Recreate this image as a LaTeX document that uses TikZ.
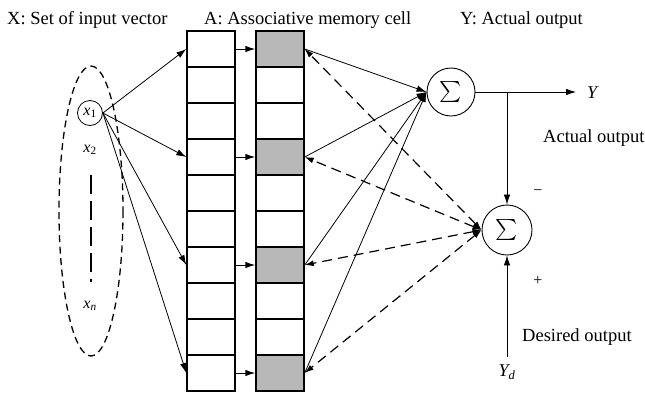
\documentclass[tikz,border=0pt]{standalone}
\usepackage{graphicx}
\usepackage{fontspec}
\setmainfont{Liberation Serif}
\usetikzlibrary{arrows.meta}
\begin{document}
\begin{tikzpicture}[x=1pt,y=-1pt,
  cellbox/.style={draw,line width=1.4pt,minimum width=48pt,minimum height=36pt,inner sep=0pt},
  shaded/.style={cellbox,fill=black!28},
  sumnode/.style={draw,circle,line width=0.9pt,minimum size=48pt,inner sep=0pt},
  lbl/.style={font=\fontsize{18.5}{20}\selectfont,inner sep=0pt},
  var/.style={font=\fontsize{16}{18}\selectfont\itshape,inner sep=0pt},
  arr/.style={line width=0.8pt,-{Latex[length=10pt,width=6.5pt]}},
  darr/.style={line width=1.2pt,dash pattern=on 10pt off 6pt,{Latex[length=9pt,width=6pt]}-{Latex[length=9pt,width=6pt]}}
]
\useasboundingbox (0,0) rectangle (645,394);
% titles
\node[lbl,anchor=base west] (tX) at (7,24) {X: Set of input vector};
\node[lbl,anchor=base west] (tA) at (204,24) {A: Associative memory cell};
\node[lbl,anchor=base west] (tY) at (460,24) {Y: Actual output};
% input ellipse
\draw[line width=1.3pt,dash pattern=on 7pt off 4.5pt] (91,211) ellipse [x radius=32,y radius=145];
\node[draw,circle,line width=0.8pt,minimum size=25pt,inner sep=0pt,var] (x1) at (90,113) {x\textsubscript{\upshape 1}};
\node[var] (x2) at (90,150) {x\textsubscript{\upshape 2}};
\node[var] (xn) at (90,306) {x\textsubscript{n}};
\coordinate (dtop) at (91,175);
\coordinate (dbot) at (91,282);
\draw[line width=1.6pt,dash pattern=on 19pt off 7pt] (dtop) -- (dbot);
% memory columns
\foreach \i in {0,...,9}{
  \node[cellbox] (L\i) at (211,{49+36*\i}) {};
}
\foreach \i in {1,2,4,5,7,8}{
  \node[cellbox] (R\i) at (280,{49+36*\i}) {};
}
\foreach \i in {0,3,6,9}{
  \node[shaded] (R\i) at (280,{49+36*\i}) {};
  \draw[arr,line width=1pt] (L\i.east) -- (R\i.west);
  \draw[arr] (x1.east) -- (L\i.west);
}
% summation nodes
\node[sumnode] (s1) at (451,92) {\scalebox{2.1}{$\textstyle\sum$}};
\node[sumnode,minimum size=50pt] (s2) at (507,230) {\scalebox{2.1}{$\textstyle\sum$}};
\foreach \i in {0,3,6,9}{
  \draw[arr] (R\i.east) -- (s1.west);
  \draw[darr] (s2.west) -- (R\i.east);
}
% outputs
\coordinate (yend) at (576,92);
\coordinate (br) at (507,92);
\draw[arr] (s1.east) -- (yend);
\node[var,font=\fontsize{18}{18}\selectfont\itshape,anchor=west] (Y) at (587,93) {Y};
\draw[arr] (br) -- (s2.north);
\coordinate (yd) at (507,357);
\draw[arr] (yd) -- (s2.south);
\node[var,font=\fontsize{18}{18}\selectfont\itshape] (Yd) at (507,372) {Y\textsubscript{d}};
\node[lbl,anchor=base west] (ao) at (543,142) {Actual output};
\node[lbl,anchor=base west] (do) at (522,341) {Desired output};
\node[lbl] (minus) at (538,193) {\fontsize{16}{16}\selectfont −};
\node[lbl] (plus) at (538,281) {\fontsize{16}{16}\selectfont +};
\end{tikzpicture}
\end{document}
